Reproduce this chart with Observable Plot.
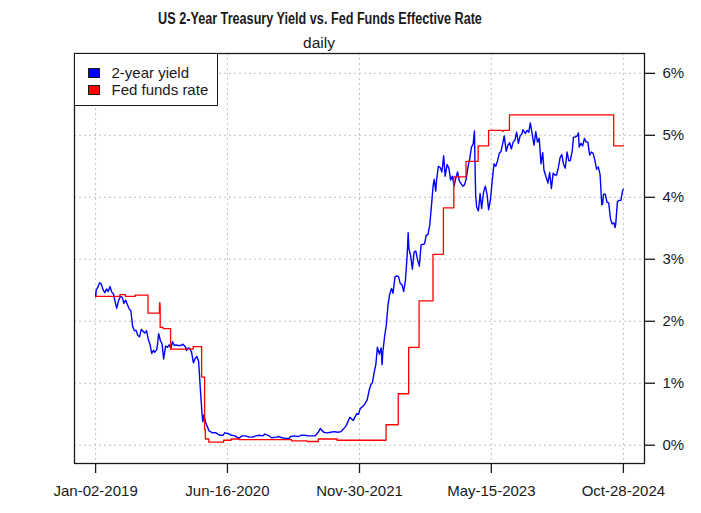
<!DOCTYPE html>
<html>
<head>
<meta charset="utf-8">
<script src="https://cdn.jsdelivr.net/npm/d3@7"></script>
<script src="https://cdn.jsdelivr.net/npm/@observablehq/plot@0.6"></script>
<style>
  body { margin: 0; background: #fff; }
  #wrap { position: relative; width: 701px; height: 513px; font-family: "Liberation Sans", Arial, sans-serif; color: #1a1a1a; overflow: hidden; }
  #chart { position: absolute; left: 0; top: 0; }
  .title { position: absolute; left: 0; width: 640px; text-align: center; top: 10.6px; font-size: 15.8px; line-height: 1; font-weight: bold; transform: scaleX(0.80); transform-origin: 320px 0; white-space: nowrap; }
  .subtitle { position: absolute; left: 0; width: 638px; text-align: center; top: 35.4px; font-size: 15.5px; line-height: 1; white-space: nowrap; }
  .legend { position: absolute; left: 73.5px; top: 52.5px; width: 144.5px; height: 53.5px; box-sizing: border-box; border: 1px solid #1a1a1a; background: #fff; }
  .key { position: absolute; left: 88px; width: 12px; height: 10px; box-sizing: border-box; border: 1px solid #1a1a1a; }
  .ltext { position: absolute; left: 111.5px; font-size: 15px; line-height: 1; white-space: nowrap; }
</style>
</head>
<body>
<div id="wrap">
  <div id="chart"></div>
</div>
<script>
// ---- data ----
const chartTitle = "US 2-Year Treasury Yield vs. Fed Funds Effective Rate";
const chartSubtitle = "daily";
const seriesNames = ["2-year yield", "Fed funds rate"];
const seriesColors = ["#0000ff", "#ff0000"];
const xTickDates = ["2019-01-02", "2020-06-16", "2021-11-30", "2023-05-15", "2024-10-28"];
const yTickValues = [0, 1, 2, 3, 4, 5, 6];

const yield2y = [
["2019-01-02",2.46],["2019-01-03",2.39],["2019-01-04",2.50],["2019-01-11",2.55],["2019-01-18",2.62],["2019-01-25",2.60],
["2019-02-01",2.51],["2019-02-08",2.46],["2019-02-15",2.52],["2019-02-22",2.48],["2019-03-01",2.56],["2019-03-08",2.47],
["2019-03-15",2.44],["2019-03-22",2.31],["2019-03-28",2.21],["2019-04-05",2.34],["2019-04-12",2.40],["2019-04-19",2.39],
["2019-04-26",2.29],["2019-05-03",2.34],["2019-05-10",2.27],["2019-05-17",2.20],["2019-05-24",2.17],["2019-05-31",1.92],
["2019-06-07",1.85],["2019-06-14",1.85],["2019-06-21",1.77],["2019-06-28",1.75],["2019-07-05",1.87],["2019-07-12",1.84],
["2019-07-19",1.81],["2019-07-26",1.85],["2019-08-02",1.71],["2019-08-09",1.63],["2019-08-16",1.48],["2019-08-23",1.53],
["2019-08-28",1.50],["2019-09-06",1.55],["2019-09-13",1.80],["2019-09-20",1.69],["2019-09-27",1.63],["2019-10-03",1.39],
["2019-10-11",1.60],["2019-10-18",1.58],["2019-10-25",1.62],["2019-11-01",1.56],["2019-11-08",1.67],["2019-11-15",1.61],
["2019-11-22",1.62],["2019-11-29",1.61],["2019-12-06",1.61],["2019-12-13",1.61],["2019-12-20",1.63],["2019-12-31",1.58],
["2020-01-03",1.53],["2020-01-10",1.57],["2020-01-17",1.56],["2020-01-24",1.49],["2020-01-31",1.33],["2020-02-07",1.40],
["2020-02-14",1.43],["2020-02-21",1.35],["2020-02-28",0.90],["2020-03-06",0.49],["2020-03-09",0.38],["2020-03-13",0.49],
["2020-03-20",0.37],["2020-03-27",0.30],["2020-04-03",0.23],["2020-04-17",0.20],["2020-05-01",0.20],["2020-05-15",0.16],
["2020-05-29",0.16],["2020-06-05",0.20],["2020-06-19",0.19],["2020-07-02",0.16],["2020-07-17",0.15],["2020-07-31",0.11],
["2020-08-14",0.15],["2020-08-28",0.15],["2020-09-11",0.13],["2020-09-25",0.13],["2020-10-09",0.15],["2020-10-23",0.16],
["2020-11-06",0.15],["2020-11-13",0.18],["2020-11-27",0.16],["2020-12-11",0.12],["2020-12-31",0.13],
["2021-01-08",0.14],["2021-01-22",0.12],["2021-02-05",0.11],["2021-02-19",0.11],["2021-02-26",0.14],["2021-03-12",0.15],
["2021-03-26",0.14],["2021-04-09",0.16],["2021-04-23",0.16],["2021-05-07",0.15],["2021-05-21",0.15],["2021-06-04",0.15],
["2021-06-17",0.21],["2021-06-25",0.27],["2021-07-09",0.21],["2021-07-23",0.20],["2021-08-06",0.21],["2021-08-20",0.22],
["2021-09-03",0.21],["2021-09-17",0.22],["2021-09-30",0.28],["2021-10-08",0.32],["2021-10-22",0.45],["2021-11-05",0.40],
["2021-11-19",0.51],["2021-11-26",0.50],["2021-12-03",0.59],["2021-12-17",0.64],["2021-12-31",0.73],
["2022-01-07",0.87],["2022-01-14",0.97],["2022-01-21",1.01],["2022-01-28",1.17],["2022-02-04",1.31],["2022-02-10",1.58],
["2022-02-18",1.47],["2022-02-25",1.57],["2022-03-01",1.30],["2022-03-04",1.50],["2022-03-11",1.75],["2022-03-18",1.94],
["2022-03-25",2.27],["2022-04-01",2.44],["2022-04-08",2.53],["2022-04-14",2.45],["2022-04-22",2.72],["2022-04-29",2.73],
["2022-05-06",2.72],["2022-05-13",2.61],["2022-05-20",2.59],["2022-05-27",2.48],["2022-06-03",2.66],["2022-06-10",3.06],
["2022-06-14",3.43],["2022-06-17",3.17],["2022-06-24",3.06],["2022-07-01",2.84],["2022-07-08",3.12],["2022-07-15",3.13],
["2022-07-22",2.99],["2022-07-29",2.89],["2022-08-05",3.23],["2022-08-12",3.24],["2022-08-19",3.25],["2022-08-26",3.39],
["2022-09-02",3.40],["2022-09-09",3.55],["2022-09-16",3.87],["2022-09-23",4.20],["2022-09-27",4.29],["2022-10-03",4.10],
["2022-10-07",4.30],["2022-10-14",4.50],["2022-10-21",4.48],["2022-10-28",4.41],["2022-11-04",4.67],["2022-11-10",4.34],
["2022-11-18",4.53],["2022-11-25",4.47],["2022-12-02",4.28],["2022-12-09",4.34],["2022-12-16",4.18],["2022-12-23",4.31],
["2022-12-30",4.41],
["2023-01-06",4.26],["2023-01-13",4.22],["2023-01-20",4.18],["2023-01-27",4.20],["2023-02-03",4.30],["2023-02-10",4.49],
["2023-02-17",4.62],["2023-02-24",4.81],["2023-03-03",4.86],["2023-03-08",5.07],["2023-03-10",4.60],["2023-03-13",4.03],
["2023-03-17",3.84],["2023-03-24",3.78],["2023-03-31",4.06],["2023-04-06",3.82],["2023-04-14",4.09],["2023-04-21",4.18],
["2023-04-28",4.04],["2023-05-04",3.80],["2023-05-12",3.98],["2023-05-19",4.28],["2023-05-26",4.54],["2023-06-02",4.50],
["2023-06-09",4.59],["2023-06-16",4.71],["2023-06-23",4.74],["2023-06-30",4.87],["2023-07-06",4.99],["2023-07-14",4.74],
["2023-07-21",4.84],["2023-07-28",4.88],["2023-08-04",4.78],["2023-08-11",4.89],["2023-08-18",4.92],["2023-08-25",5.05],
["2023-09-01",4.87],["2023-09-08",4.99],["2023-09-15",5.02],["2023-09-19",5.09],["2023-09-29",5.03],["2023-10-06",5.08],
["2023-10-13",5.05],["2023-10-19",5.20],["2023-10-27",5.01],["2023-11-03",4.84],["2023-11-10",5.06],["2023-11-17",4.89],
["2023-11-24",4.95],["2023-12-01",4.54],["2023-12-08",4.72],["2023-12-13",4.44],["2023-12-22",4.32],["2023-12-29",4.23],
["2024-01-05",4.40],["2024-01-12",4.14],["2024-01-19",4.39],["2024-01-26",4.36],["2024-02-02",4.36],["2024-02-09",4.48],
["2024-02-16",4.64],["2024-02-23",4.69],["2024-03-01",4.53],["2024-03-08",4.47],["2024-03-15",4.73],["2024-03-22",4.59],
["2024-03-28",4.59],["2024-04-05",4.75],["2024-04-10",4.97],["2024-04-16",4.97],["2024-04-25",4.99],["2024-04-30",5.04],
["2024-05-03",4.81],["2024-05-10",4.87],["2024-05-17",4.83],["2024-05-24",4.95],["2024-05-31",4.89],["2024-06-07",4.89],
["2024-06-14",4.68],["2024-06-21",4.73],["2024-06-28",4.71],["2024-07-05",4.60],["2024-07-12",4.45],["2024-07-19",4.49],
["2024-07-26",4.37],["2024-08-02",3.88],["2024-08-05",3.89],["2024-08-09",4.05],["2024-08-16",4.05],["2024-08-23",3.92],
["2024-08-30",3.91],["2024-09-06",3.65],["2024-09-13",3.57],["2024-09-20",3.59],["2024-09-24",3.51],["2024-09-27",3.56],
["2024-10-04",3.93],["2024-10-11",3.95],["2024-10-18",3.95],["2024-10-25",4.11],["2024-10-28",4.13]
];

const fedFunds = [
["2019-01-02",2.40],["2019-04-10",2.43],["2019-05-02",2.40],["2019-06-10",2.42],["2019-08-01",2.13],["2019-09-16",2.25],
["2019-09-17",2.30],["2019-09-18",2.25],["2019-09-19",1.90],["2019-10-01",1.88],["2019-10-31",1.55],["2020-01-30",1.59],
["2020-03-04",1.10],["2020-03-16",0.25],["2020-03-19",0.10],["2020-04-02",0.05],["2020-06-01",0.08],["2020-07-01",0.10],
["2020-08-03",0.09],["2021-03-01",0.07],["2021-05-03",0.06],["2021-06-17",0.10],["2021-09-01",0.08],["2022-03-17",0.33],
["2022-05-05",0.83],["2022-06-16",1.58],["2022-07-28",2.33],["2022-09-22",3.08],["2022-11-03",3.83],["2022-12-15",4.33],
["2023-02-02",4.58],["2023-03-23",4.83],["2023-05-04",5.08],["2023-06-28",5.07],["2023-07-03",5.08],["2023-07-27",5.33],
["2024-09-19",4.83],["2024-10-28",4.83]
];

// ---- build ----
const parse = d3.utcParse("%Y-%m-%d");
const toRows = arr => arr.map(([d, v]) => ({date: parse(d), value: v}));
const yieldRows = toRows(yield2y);
const ffRows = toRows(fedFunds);
const xTicks = xTickDates.map(parse);
const fmtDate = d3.utcFormat("%b-%d-%Y");

const xStart = xTicks[0], xEnd = xTicks[xTicks.length - 1];
const pad = (xEnd - xStart) * 0.04;
const xDomain = [new Date(+xStart - pad), new Date(+xEnd + pad)];

const font = '"Liberation Sans", Arial, sans-serif';
const gridStyle = {stroke: "#c2c2c2", strokeOpacity: 1, strokeWidth: 1, strokeDasharray: "2,3"};

const chart = Plot.plot({
  width: 701,
  height: 513,
  marginLeft: 74,
  marginRight: 57,
  marginTop: 53,
  marginBottom: 50,
  style: {fontFamily: font, fontSize: "15px", color: "#1a1a1a", background: "#fff", overflow: "visible"},
  x: {type: "utc", domain: xDomain, label: null},
  y: {domain: [-0.295, 6.32], label: null},
  marks: [
    Plot.gridX(xTicks, gridStyle),
    Plot.gridY(yTickValues, gridStyle),
    Plot.line(yieldRows, {x: "date", y: "value", stroke: seriesColors[0], strokeWidth: 1.4}),
    Plot.line(ffRows, {x: "date", y: "value", stroke: seriesColors[1], strokeWidth: 1.3, curve: "step-after"}),
    Plot.frame({stroke: "#1a1a1a", strokeWidth: 1.3}),
    Plot.axisX(xTicks, {tickSize: 10, tickPadding: 12, tickFormat: fmtDate, strokeWidth: 1.3, label: null, fontSize: 15}),
    Plot.axisY(yTickValues, {anchor: "right", tickSize: 10, tickPadding: 8, tickFormat: d => d + "%", strokeWidth: 1.3, label: null, fontSize: 15})
  ]
});
document.getElementById("chart").appendChild(chart);

// ---- title, subtitle, legend (HTML around the SVG) ----
const wrap = document.getElementById("wrap");
function addDiv(cls, text, styles) {
  const el = document.createElement("div");
  el.className = cls;
  if (text != null) el.textContent = text;
  Object.assign(el.style, styles || {});
  wrap.appendChild(el);
  return el;
}
addDiv("title", chartTitle);
addDiv("subtitle", chartSubtitle);
addDiv("legend", null);
const keyTops = [68, 84.5];
const textTops = [64.8, 81.6];
seriesNames.forEach((name, i) => {
  addDiv("key", null, {top: keyTops[i] + "px", background: seriesColors[i]});
  addDiv("ltext", name, {top: textTops[i] + "px"});
});
</script>
</body>
</html>
